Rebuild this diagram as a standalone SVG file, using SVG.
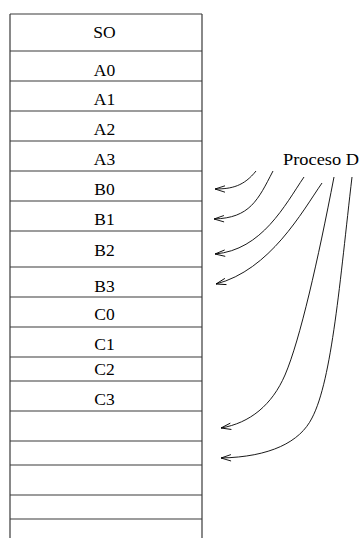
<svg xmlns="http://www.w3.org/2000/svg" width="360" height="538" viewBox="0 0 360 538">
<style>
.grid{stroke:#3a3a3a;stroke-width:1.2;fill:none}
.conn{stroke:#000;stroke-width:0.9;fill:none}
</style>
<defs>
<marker id="arr" markerUnits="userSpaceOnUse" markerWidth="14" markerHeight="10" viewBox="-11 -5 12 10" refX="0" refY="0" orient="auto">
<path d="M-10,-3.2 L0,0 L-10,3.2" fill="none" stroke="#000" stroke-width="0.9"/>
</marker>
</defs>
<rect width="360" height="538" fill="#fff"/>
<g id="memory">
<line class="grid" x1="10" y1="14" x2="10" y2="538"/>
<line class="grid" x1="202" y1="14" x2="202" y2="538"/>
<g id="cell-SO"><line class="grid" x1="10" y1="14" x2="202" y2="14"/><text x="104.5" y="38" font-family="'Liberation Serif', 'Times New Roman', serif" font-size="17.5" text-anchor="middle">SO</text></g>
<g id="cell-A0"><line class="grid" x1="10" y1="51" x2="202" y2="51"/><text x="104.5" y="76" font-family="'Liberation Serif', 'Times New Roman', serif" font-size="17.5" text-anchor="middle">A0</text></g>
<g id="cell-A1"><line class="grid" x1="10" y1="81" x2="202" y2="81"/><text x="104.5" y="105" font-family="'Liberation Serif', 'Times New Roman', serif" font-size="17.5" text-anchor="middle">A1</text></g>
<g id="cell-A2"><line class="grid" x1="10" y1="111" x2="202" y2="111"/><text x="104.5" y="135" font-family="'Liberation Serif', 'Times New Roman', serif" font-size="17.5" text-anchor="middle">A2</text></g>
<g id="cell-A3"><line class="grid" x1="10" y1="141" x2="202" y2="141"/><text x="104.5" y="165" font-family="'Liberation Serif', 'Times New Roman', serif" font-size="17.5" text-anchor="middle">A3</text></g>
<g id="cell-B0"><line class="grid" x1="10" y1="171" x2="202" y2="171"/><text x="104.5" y="195" font-family="'Liberation Serif', 'Times New Roman', serif" font-size="17.5" text-anchor="middle">B0</text></g>
<g id="cell-B1"><line class="grid" x1="10" y1="201" x2="202" y2="201"/><text x="104.5" y="225" font-family="'Liberation Serif', 'Times New Roman', serif" font-size="17.5" text-anchor="middle">B1</text></g>
<g id="cell-B2"><line class="grid" x1="10" y1="231" x2="202" y2="231"/><text x="104.5" y="256" font-family="'Liberation Serif', 'Times New Roman', serif" font-size="17.5" text-anchor="middle">B2</text></g>
<g id="cell-B3"><line class="grid" x1="10" y1="267" x2="202" y2="267"/><text x="104.5" y="292" font-family="'Liberation Serif', 'Times New Roman', serif" font-size="17.5" text-anchor="middle">B3</text></g>
<g id="cell-C0"><line class="grid" x1="10" y1="297" x2="202" y2="297"/><text x="104.5" y="320" font-family="'Liberation Serif', 'Times New Roman', serif" font-size="17.5" text-anchor="middle">C0</text></g>
<g id="cell-C1"><line class="grid" x1="10" y1="327" x2="202" y2="327"/><text x="104.5" y="350" font-family="'Liberation Serif', 'Times New Roman', serif" font-size="17.5" text-anchor="middle">C1</text></g>
<g id="cell-C2"><line class="grid" x1="10" y1="357" x2="202" y2="357"/><text x="104.5" y="375" font-family="'Liberation Serif', 'Times New Roman', serif" font-size="17.5" text-anchor="middle">C2</text></g>
<g id="cell-C3"><line class="grid" x1="10" y1="381" x2="202" y2="381"/><text x="104.5" y="405" font-family="'Liberation Serif', 'Times New Roman', serif" font-size="17.5" text-anchor="middle">C3</text></g>
<g id="cell-E0"><line class="grid" x1="10" y1="411" x2="202" y2="411"/></g>
<g id="cell-E1"><line class="grid" x1="10" y1="441" x2="202" y2="441"/></g>
<g id="cell-E2"><line class="grid" x1="10" y1="465" x2="202" y2="465"/></g>
<g id="cell-E3"><line class="grid" x1="10" y1="495" x2="202" y2="495"/></g>
<g id="cell-E4"><line class="grid" x1="10" y1="519" x2="202" y2="519"/></g>
</g>
<g id="procesoD"><text x="283" y="165" font-family="'Liberation Serif', 'Times New Roman', serif" font-size="17" textLength="76" lengthAdjust="spacingAndGlyphs">Proceso D</text></g>
<g id="connectors">
<path class="conn" marker-end="url(#arr)" d="M256,171 C244,186 232,189 215,189"/>
<path class="conn" marker-end="url(#arr)" d="M273,171 C258,200 250,218 214,219"/>
<path class="conn" marker-end="url(#arr)" d="M304,177 C285,205 262,250 215,254"/>
<path class="conn" marker-end="url(#arr)" d="M322,183 C302,212 270,270 216,284"/>
<path class="conn" marker-end="url(#arr)" d="M334,177 C318,260 300,340 285,375 C272,405 250,423 221,428"/>
<path class="conn" marker-end="url(#arr)" d="M352,177 C340,280 332,380 312,418 C300,442 270,457 221,458"/>
</g>
</svg>
